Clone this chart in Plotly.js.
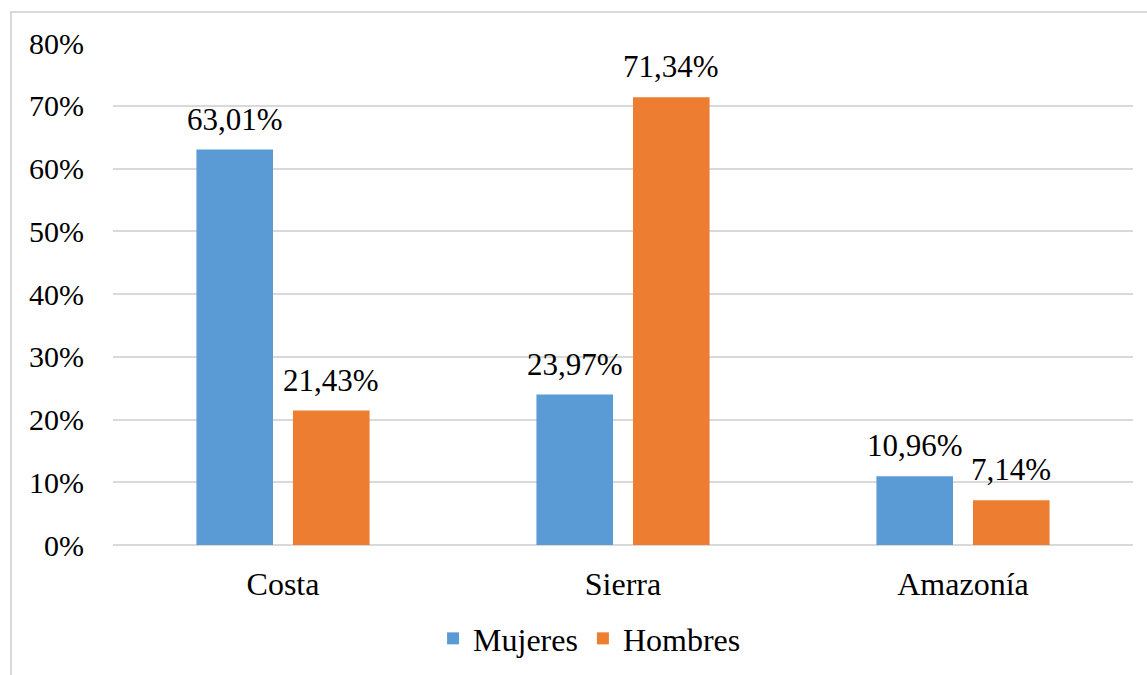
<!DOCTYPE html>
<html><head><meta charset="utf-8">
<script src="https://cdn.plot.ly/plotly-3.0.1.min.js"></script>
<style>html,body{margin:0;padding:0;overflow:hidden;background:#fff}
#frame{position:absolute;left:10px;top:11px;width:1300px;height:800px;border:2px solid #d9d9d9;pointer-events:none;box-sizing:border-box}
</style></head>
<body><div id="chart" style="width:1147px;height:675px;"></div><div id="frame"></div>
<script>
const categories = ["Costa", "Sierra", "Amazonía"];
const mujeres = [63.01, 23.97, 10.96];
const hombres = [21.43, 71.34, 7.14];
const tickVals = [0, 10, 20, 30, 40, 50, 60, 70, 80];
const tickText = ["0%", "10%", "20%", "30%", "40%", "50%", "60%", "70%", "80%"];
const fmt = v => v.toFixed(2).replace('.', ',') + '%';
const FAM = "Liberation Serif, Times New Roman, serif";
const f = size => ({family: FAM, size: size, color: '#000'});
const traces = [
  {type: 'bar', name: 'Mujeres', x: categories, y: mujeres, marker: {color: '#5B9BD5'}, hoverinfo: 'none'},
  {type: 'bar', name: 'Hombres', x: categories, y: hombres, marker: {color: '#ED7D31'}, hoverinfo: 'none'}
];
const annotations = [];
[[mujeres, -48], [hombres, 48]].forEach(([vals, dx]) => {
  vals.forEach((v, i) => annotations.push({
    x: categories[i], y: v, xref: 'x', yref: 'y', text: fmt(v), showarrow: false,
    xanchor: 'center', yanchor: 'bottom', xshift: dx, yshift: 11, font: f(31)
  }));
});
const layout = {
  width: 1147, height: 675,
  margin: {l: 113, r: 14, t: 43, b: 130, autoexpand: false},
  paper_bgcolor: '#fff', plot_bgcolor: '#fff',
  font: f(30),
  barmode: 'group', bargap: 0.432, bargroupgap: 0.207,
  showlegend: true,
  legend: {orientation: 'h', x: 0.514, xref: 'container', xanchor: 'center',
           y: 0.054, yref: 'container', yanchor: 'middle',
           font: f(32), itemwidth: 30, tracegroupgap: 0},
  annotations: annotations,
  xaxis: {type: 'category', showgrid: false, showline: false, ticks: '', automargin: false,
          tickfont: f(32), ticklabelstandoff: 17},
  yaxis: {range: [0, 80], tickvals: tickVals, ticktext: tickText, showgrid: true,
          gridcolor: '#d9d9d9', gridwidth: 2, zeroline: true, zerolinecolor: '#d9d9d9', zerolinewidth: 2,
          showline: false, ticks: '', automargin: false, ticklabelstandoff: 28,
          tickfont: f(30)}
};
Plotly.newPlot('chart', traces, layout, {displayModeBar: false, staticPlot: true});
</script></body></html>
